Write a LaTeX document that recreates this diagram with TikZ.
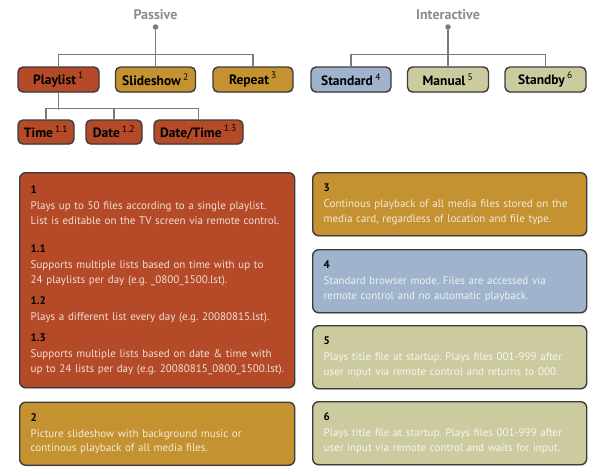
\documentclass[tikz,border=0pt]{standalone}
\usepackage{fontspec}
\setmainfont{PT Sans}
\usepackage{tikz}
\usetikzlibrary{positioning,shadows}
\definecolor{rust}{HTML}{B44A28}
\definecolor{gold}{HTML}{C49230}
\definecolor{slate}{HTML}{A0B3CC}
\definecolor{khaki}{HTML}{CCCB9F}
\definecolor{boxline}{HTML}{3C3C3C}
\definecolor{treegray}{HTML}{7A7A7A}
\definecolor{labelgray}{HTML}{8C8C8C}
\frenchspacing
\newcommand\modenum[1]{\,\textsuperscript{\mdseries #1}}
\newcommand\infohead[1]{{\color{black}\bfseries #1}\\[1.3pt]}
\tikzset{
    mode box/.style={
        draw=boxline,line width=1.4pt,rounded corners=5pt,
        minimum height=25pt,inner sep=0pt,
        font=\fontsize{13.5}{16}\selectfont\bfseries,
        drop shadow={shadow xshift=0pt,shadow yshift=-1.2pt,opacity=.25}
    },
    info box/.style={
        draw=boxline,line width=1.4pt,rounded corners=6pt,
        anchor=north west,minimum width=275pt,text width=253pt,
        inner xsep=11pt,inner ysep=6pt,align=left,
        text=white!82!#1,fill=#1,
        font=\fontsize{11}{14.7}\selectfont,
        drop shadow={shadow xshift=0pt,shadow yshift=-1.2pt,opacity=.25}
    },
    group label/.style={text=labelgray,font=\fontsize{14}{16}\selectfont\bfseries},
    tree dot/.style={circle,fill=treegray,inner sep=0pt,minimum size=5.5pt},
    tree line/.style={draw=treegray,line width=1.6pt}
}

\begin{document}
\begin{tikzpicture}[x=1pt,y=-1pt]
\useasboundingbox (0,0) rectangle (600,475);
\node[group label] (passive) at (155.5,15) {Passive};
\node[group label] (interactive) at (448,15) {Interactive};
\node[tree dot] (passive_dot) at (155.5,27) {};
\node[tree dot] (interactive_dot) at (448,27) {};
\foreach \name/\x/\w/\c/\txt in {playlist/58.5/81/rust/Playlist\modenum{1},
        slideshow/155.5/80/gold/Slideshow\modenum{2},
        repeat/253/80/gold/Repeat\modenum{3},
        standard/351/80/slate/Standard\modenum{4},
        manual/448/81/khaki/Manual\modenum{5},
        standby/545.5/81/khaki/Standby\modenum{6}}
    \node[mode box,fill=\c,minimum width=\w] (\name) at (\x,79.5) {\txt};
\foreach \name/\x/\w/\txt in {time/46/56/{Time\modenum{1.1}},
        date/114/56/{Date\modenum{1.2}},
        datetime/198.5/89/{Date/Time\modenum{1.3}}}
    \node[mode box,fill=rust,minimum width=\w,minimum height=24pt] (\name) at (\x,132) {\txt};
\draw[tree line] (passive_dot) -- (slideshow);
\draw[tree line] (interactive_dot) -- (manual);
\draw[tree line] (playlist.north) -- ++(0,-12) -| (repeat.north);
\draw[tree line] (standard.north) -- ++(0,-12) -| (standby.north);
\draw[tree line] (playlist.south) -- ++(0,17);
\draw[tree line] (time.north) -- ++(0,-11) -| (datetime.north);
\draw[tree line] (date.north) -- ++(0,-11);

\node[info box=rust,minimum height=215pt] (info_1) at (19,172) {
    \infohead{1}Plays up to 50 files according to a single playlist.\\
    List is editable on the TV screen via remote control.\\[14pt]
    \infohead{1.1}Supports multiple lists based on time with up to\\
    24 playlists per day (e.g. \_0800\_1500.lst).\\[6.5pt]
    \infohead{1.2}Plays a different list every day (e.g. 20080815.lst).\\[6.5pt]
    \infohead{1.3}Supports multiple lists based on date \& time with\\
    \mbox{up to 24 lists per day (e.g. 20080815\_0800\_1500.lst).}};
\node[info box=gold,minimum height=63pt] (info_2) at (19,401.5) {
    \infohead{2}Picture slideshow with background music or\\
    continous playback of all media files.};
\node[info box=gold,minimum height=63pt,minimum width=274pt,text width=252pt] (info_3) at (312,172) {
    \infohead{3}Continous playback of all media files stored on the\\
    media card, regardless of location and file type.};
\node[info box=slate,minimum height=63pt,minimum width=274pt,text width=252pt] (info_4) at (312,249) {
    \infohead{4}Standard browser mode. Files are accessed via\\
    remote control and no automatic playback.};
\node[info box=khaki,minimum height=63pt,minimum width=274pt,text width=252pt] (info_5) at (312,325) {
    \infohead{5}Plays title file at startup. Plays files 001-999 after\\
    user input via remote control and returns to 000.};
\node[info box=khaki,minimum height=63pt,minimum width=274pt,text width=252pt] (info_6) at (312,401) {
    \infohead{6}Plays title file at startup. Plays files 001-999 after\\
    user input via remote control and waits for input.};
\end{tikzpicture}
\end{document}
